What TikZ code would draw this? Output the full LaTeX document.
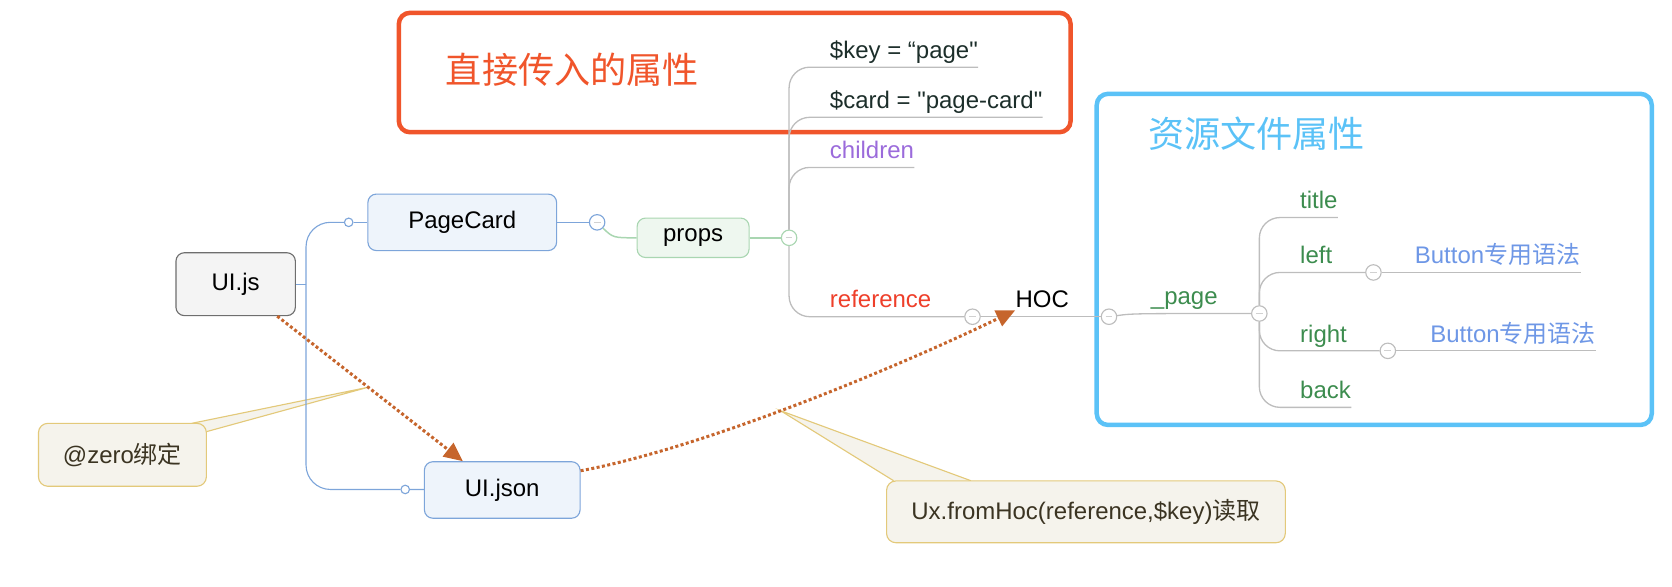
\documentclass[tikz,border=0pt]{standalone}
\usepackage{fontspec}
\setmainfont{Liberation Sans}[Ligatures=TeXOff]
\newfontfamily\cjk{Noto Sans CJK SC}
\usetikzlibrary{arrows.meta,backgrounds}
\definecolor{redbox}{HTML}{F0552B}
\definecolor{bluebox}{HTML}{5BC2F7}
\definecolor{treeblue}{HTML}{7DA5DA}
\definecolor{cardfill}{HTML}{EEF4FB}
\definecolor{jsline}{HTML}{6E6E6E}
\definecolor{jsfill}{HTML}{F4F4F4}
\definecolor{propsfill}{HTML}{EEF7EF}
\definecolor{propsline}{HTML}{A9D6B1}
\definecolor{branch}{HTML}{BDBDBD}
\definecolor{darktxt}{HTML}{1C2E2A}
\definecolor{kidpurple}{HTML}{9B6BDB}
\definecolor{refred}{HTML}{EE3F2A}
\definecolor{keygreen}{HTML}{3C8C4E}
\definecolor{btnblue}{HTML}{6E97E6}
\definecolor{linkorange}{HTML}{C6652C}
\definecolor{notefill}{HTML}{F5F3EC}
\definecolor{noteline}{HTML}{E3C97A}
\definecolor{notetxt}{HTML}{3B3422}

\begin{document}
\begin{tikzpicture}[x=0.02cm, y=-0.02cm,
    every node/.style={font=\fontsize{12.8}{15}\selectfont},
    card/.style={draw=treeblue, fill=cardfill, rounded corners=4.5pt, line width=0.6pt, minimum height=1.06cm},
    lbl/.style={anchor=south west, inner xsep=0pt, inner ysep=0pt, text depth=4.5pt},
    fold/.style={circle, draw=branch, fill=white, line width=0.6pt, minimum size=0.29cm, inner sep=0pt,
      path picture={\draw[branch!70, line width=0.4pt] ([xshift=-1.8pt]path picture bounding box.center) -- ([xshift=1.8pt]path picture bounding box.center);}},
    knob/.style={circle, draw=treeblue, fill=white, line width=0.6pt, minimum size=0.16cm, inner sep=0pt},
    note/.style={draw=noteline, fill=notefill, rounded corners=5pt, line width=0.6pt, text=notetxt},
    link/.style={linkorange, line width=1.6pt, dash pattern=on 1.6pt off 1.3pt, -{Triangle[length=10pt,width=9pt]}},
    frame/.style={line width=2.4pt, rounded corners=6pt},
    twig/.style={branch, line width=0.7pt, rounded corners=11pt}]
  \useasboundingbox (0,0) rectangle (1568,549.6);

  \draw[frame, redbox] (374,12) rectangle (1004,124);
  \node[anchor=west, text=redbox, font=\cjk\fontsize{19.3}{23}\selectfont] (direct) at (412,65) {直接传入的属性};
  \draw[frame, bluebox] (1028.5,88) rectangle (1549,398.5);
  \node[anchor=west, text=bluebox, font=\cjk\fontsize{19.3}{23}\selectfont] (resfile) at (1070.5,125) {资源文件属性};

  \node[card, draw=jsline, fill=jsfill, minimum width=2.24cm, minimum height=1.18cm] (uijs) at (221,266.5) {UI.js};
  \node[card, minimum width=3.54cm] (pagecard) at (433.5,208.5) {PageCard};
  \node[card, minimum width=2.92cm] (uijson) at (471,459.5) {UI.json};
  \node[card, draw=propsline, fill=propsfill, minimum width=2.1cm, minimum height=0.74cm] (props) at (650,223) {props};

  \coordinate (trunk) at (287,266.5);
  \node[knob] (k1) at (327,208.5) {};
  \node[knob] (k2) at (380,459) {};
  \draw[treeblue, line width=0.6pt] (uijs) -- (trunk);
  \draw[treeblue, line width=0.6pt, rounded corners=13pt] (trunk) |- (k1);
  \draw[treeblue, line width=0.6pt, rounded corners=13pt] (trunk) |- (k2);
  \draw[treeblue, line width=0.6pt] (k1) -- (pagecard);
  \draw[treeblue, line width=0.6pt] (k2) -- (uijson);

  \node[fold, draw=treeblue] (f0) at (560,208.5) {};
  \node[fold, draw=propsline] (f1) at (740,223) {};
  \draw[treeblue, line width=0.6pt] (pagecard) -- (f0);
  \draw[propsline, line width=0.8pt] (f0.-45) .. controls (575,223) .. (props.west);
  \draw[propsline, line width=0.8pt] (props) -- (f1);

  \node[lbl, text=darktxt] (key) at (778,63) {\$key = “page"};
  \node[lbl, text=darktxt] (card) at (778,110) {\$card = "page-card"};
  \node[lbl, text=kidpurple] (kids) at (778,157) {children};
  \node[lbl, text=refred] (ref) at (778,297) {reference};
  \node[fold] (f2) at (912,297) {};
  \draw[twig] (f1) |- (key.south east);
  \draw[twig] (f1) |- (card.south east);
  \draw[twig] (f1) |- (kids.south east);
  \draw[twig] (f1) |- (f2);

  \node[lbl] (hoc) at (952,297) {HOC};
  \node[fold] (f3) at (1040,297) {};
  \node[lbl, text=keygreen] (page) at (1079,294) {\_page};
  \node[fold] (f4) at (1181,294) {};
  \draw[twig] (f2) -- (f3);
  \draw[twig] (f3) .. controls (1062,294) .. (f4);

  \node[lbl, text=keygreen] (title) at (1219,204) {title};
  \node[lbl, text=keygreen] (left) at (1219,255.5) {left};
  \node[lbl, text=keygreen] (right) at (1219,329) {right};
  \node[lbl, text=keygreen] (back) at (1219,382) {back};
  \node[fold] (f5) at (1288,255.5) {};
  \node[fold] (f6) at (1301.5,329) {};
  \node[lbl, text=btnblue] (btn1) at (1326.5,255.5) {Button{\cjk 专用语法}};
  \node[lbl, text=btnblue] (btn2) at (1341,329) {Button{\cjk 专用语法}};
  \draw[twig] (f4) |- (title.south east);
  \draw[twig] (f4) |- (f5);
  \draw[twig] (f4) |- (f6);
  \draw[twig] (f4) |- (back.south east);
  \draw[twig] (f5) -- (btn1.south east);
  \draw[twig] (f6) -- (btn2.south east);

  \node[note, minimum width=3.15cm, minimum height=1.18cm] (zero) at (114.8,426.5) {@zero{\cjk 绑定}};
  \node[note, minimum width=7.48cm, minimum height=1.16cm] (fromhoc) at (1018.4,480) {Ux.fromHoc(reference,\$key){\cjk 读取}};

  \draw[link] ([xshift=-0.35cm]uijs.south east) -- coordinate[pos=0.49] (zt) ([xshift=-0.74cm]uijson.north);
  \draw[link] ([yshift=-0.18cm]uijson.north east) .. controls (660,420) and (840,345) .. coordinate[pos=0.46] (ht) ([yshift=0.12cm]hoc.south west);

  \begin{scope}[on background layer]
    \filldraw[draw=noteline, fill=notefill, line width=0.6pt] (179.8,397) -- (zt) -- (193.6,404.8);
    \filldraw[draw=noteline, fill=notefill, line width=0.6pt] (838,450.8) -- (ht) -- (910.5,450.8);
  \end{scope}
\end{tikzpicture}
\end{document}
